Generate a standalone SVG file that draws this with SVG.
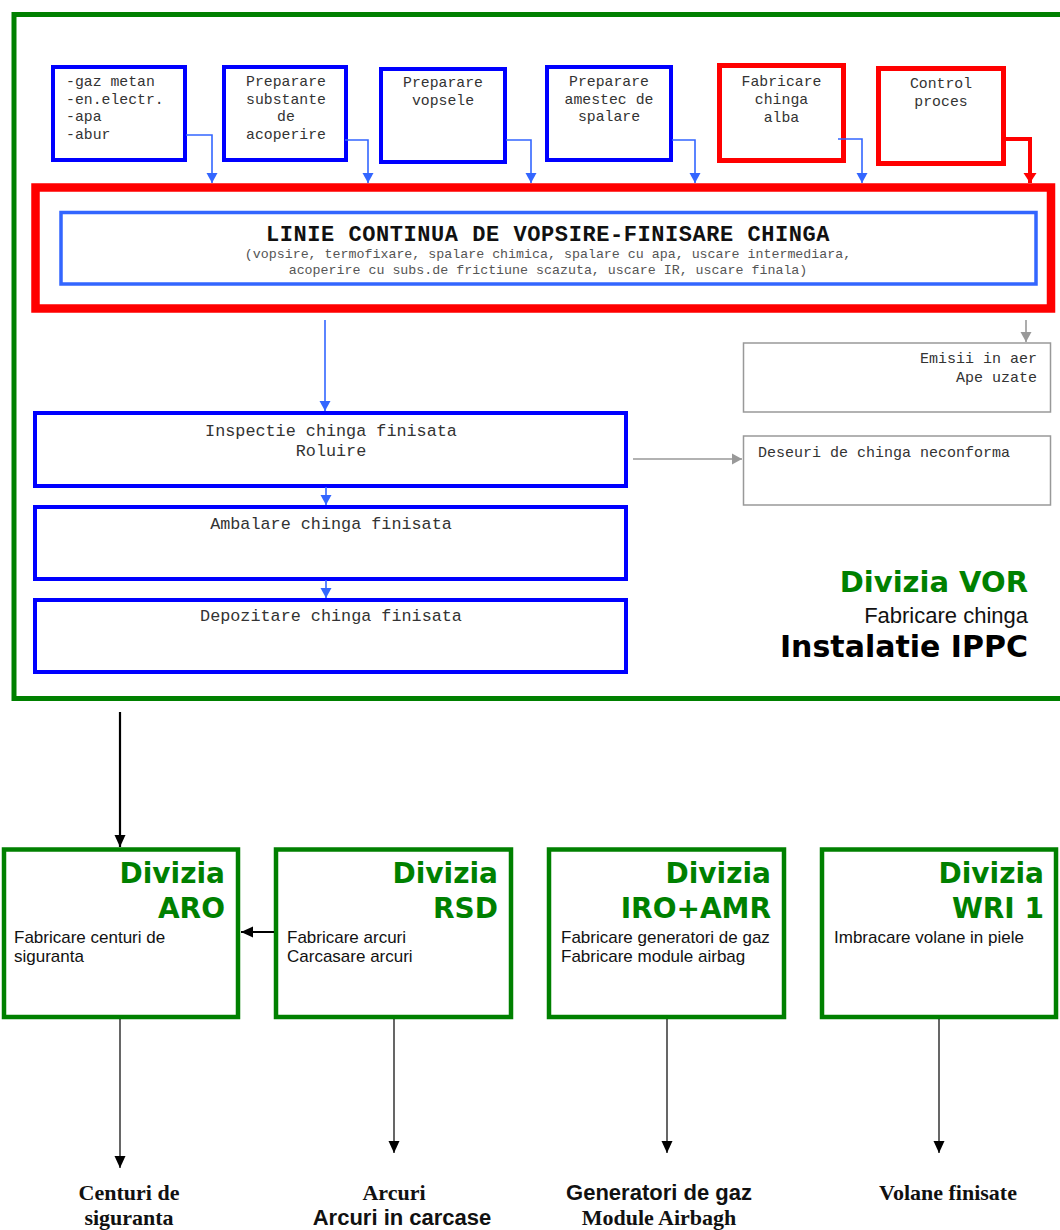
<svg xmlns="http://www.w3.org/2000/svg" width="1060" height="1230" viewBox="0 0 1060 1230">
<style>
.mono{font-family:"Liberation Mono","Courier New",monospace;fill:#333}
.t14{font-size:14.8px}
.t15{font-size:15px}
.t16{font-size:16.8px}
.sub{font-size:13.3px;fill:#555}
.title{font-family:"Liberation Mono","Courier New",monospace;font-size:22px;font-weight:bold;letter-spacing:0.55px;fill:#111}
.bbox{fill:#fff;stroke:#0000FF;stroke-width:4}
.rbox{fill:#fff;stroke:#FF0000;stroke-width:5}
.gbox{fill:#fff;stroke:#999;stroke-width:1.5}
.dbox{fill:#fff;stroke:#008000;stroke-width:4.5}
.dh{font-family:"DejaVu Sans",Verdana,sans-serif;font-weight:bold;font-size:28px;fill:#008000;text-anchor:end}
.body{font-family:"Liberation Sans",Arial,sans-serif;font-size:17px;fill:#111}
.ser{font-family:"Liberation Serif","Times New Roman",serif;font-weight:bold;font-size:22px;fill:#111;text-anchor:middle}
.san{font-family:"Liberation Sans",Arial,sans-serif;font-weight:bold;font-size:22px;fill:#111;text-anchor:middle}
.cb{fill:none;stroke:#3366FF;stroke-width:1.6}
.cr{fill:none;stroke:#FF0000;stroke-width:4}
.cg{fill:none;stroke:#999;stroke-width:1.6}
.ck{fill:none;stroke:#000;stroke-width:1.2}
.ck2{fill:none;stroke:#000;stroke-width:2.2}
.mid{text-anchor:middle}
.end{text-anchor:end}
</style>
<defs>
<marker id="ab" markerUnits="userSpaceOnUse" markerWidth="12" markerHeight="12" refX="10" refY="6" orient="auto"><path d="M0,0.5 L10,6 L0,11.5 z" fill="#3366FF"/></marker>
<marker id="ar" markerUnits="userSpaceOnUse" markerWidth="12" markerHeight="14" refX="10" refY="7" orient="auto"><path d="M0,0.5 L10,7 L0,13.5 z" fill="#FF0000"/></marker>
<marker id="ag" markerUnits="userSpaceOnUse" markerWidth="12" markerHeight="12" refX="10" refY="6" orient="auto"><path d="M0,0.5 L10,6 L0,11.5 z" fill="#999"/></marker>
<marker id="ak" markerUnits="userSpaceOnUse" markerWidth="14" markerHeight="12" refX="12" refY="6" orient="auto"><path d="M0,0.5 L12,6 L0,11.5 z" fill="#000"/></marker>
</defs>
<rect width="1060" height="1230" fill="#fff"/>

<g id="vor-frame">
<rect x="14" y="14.5" width="1060" height="684" fill="none" stroke="#008000" stroke-width="5"/>
<text x="1028" y="592" font-family="DejaVu Sans,Verdana,sans-serif" font-weight="bold" font-size="29" fill="#008000" text-anchor="end">Divizia VOR</text>
<text x="1028" y="623" font-family="Liberation Sans,Arial,sans-serif" font-size="22" fill="#111" text-anchor="end">Fabricare chinga</text>
<text x="1028" y="657" font-family="DejaVu Sans,Verdana,sans-serif" font-weight="bold" font-size="30" fill="#000" text-anchor="end">Instalatie IPPC</text>
</g>

<g id="utilitati">
<rect class="bbox" x="53" y="67" width="132" height="93"/>
<text class="mono t14" x="66" y="86">-gaz metan</text>
<text class="mono t14" x="66" y="103.5">-en.electr.</text>
<text class="mono t14" x="66" y="121">-apa</text>
<text class="mono t14" x="66" y="139">-abur</text>
</g>
<g id="substante">
<rect class="bbox" x="224" y="67" width="122" height="93"/>
<text class="mono t14 mid" x="286" y="86">Preparare</text>
<text class="mono t14 mid" x="286" y="103.5">substante</text>
<text class="mono t14 mid" x="286" y="121">de</text>
<text class="mono t14 mid" x="286" y="139">acoperire</text>
</g>
<g id="vopsele">
<rect class="bbox" x="381" y="69" width="124" height="93"/>
<text class="mono t14 mid" x="443" y="87">Preparare</text>
<text class="mono t14 mid" x="443" y="105">vopsele</text>
</g>
<g id="spalare">
<rect class="bbox" x="547" y="67" width="124" height="93"/>
<text class="mono t14 mid" x="609" y="86">Preparare</text>
<text class="mono t14 mid" x="609" y="104">amestec de</text>
<text class="mono t14 mid" x="609" y="121">spalare</text>
</g>
<g id="chinga-alba">
<rect class="rbox" x="719.5" y="65.5" width="124" height="95"/>
<text class="mono t14 mid" x="781.5" y="86">Fabricare</text>
<text class="mono t14 mid" x="781.5" y="104">chinga</text>
<text class="mono t14 mid" x="781.5" y="121.5">alba</text>
</g>
<g id="control">
<rect class="rbox" x="878.5" y="68.5" width="125" height="95"/>
<text class="mono t14 mid" x="941" y="87.5">Control</text>
<text class="mono t14 mid" x="941" y="105.5">proces</text>
</g>

<g id="linie">
<rect x="35.5" y="187.5" width="1015.5" height="121" fill="#fff" stroke="#FF0000" stroke-width="8.5"/>
<rect x="61" y="212.5" width="975" height="71.5" fill="#fff" stroke="#3366FF" stroke-width="3.5"/>
<text class="title" x="548" y="241" text-anchor="middle">LINIE CONTINUA DE VOPSIRE-FINISARE CHINGA</text>
<text class="mono sub mid" x="548" y="257.5">(vopsire, termofixare, spalare chimica, spalare cu apa, uscare intermediara,</text>
<text class="mono sub mid" x="548" y="273.5">acoperire cu subs.de frictiune scazuta, uscare IR, uscare finala)</text>
</g>

<g id="emisii">
<rect class="gbox" x="743.5" y="343" width="307" height="69"/>
<text class="mono t15 end" x="1037" y="363">Emisii in aer</text>
<text class="mono t15 end" x="1037" y="382">Ape uzate</text>
</g>
<g id="deseuri">
<rect class="gbox" x="743.5" y="436" width="307" height="69"/>
<text class="mono t15" x="758" y="457">Deseuri de chinga neconforma</text>
</g>

<g id="inspectie">
<rect class="bbox" x="35" y="413" width="591" height="73"/>
<text class="mono t16 mid" x="331" y="436">Inspectie chinga finisata</text>
<text class="mono t16 mid" x="331" y="456">Roluire</text>
</g>
<g id="ambalare">
<rect class="bbox" x="35" y="507" width="591" height="72"/>
<text class="mono t16 mid" x="331" y="529">Ambalare chinga finisata</text>
</g>
<g id="depozitare">
<rect class="bbox" x="35" y="600" width="591" height="72"/>
<text class="mono t16 mid" x="331" y="621">Depozitare chinga finisata</text>
</g>

<g id="div-aro">
<rect class="dbox" x="4" y="849.5" width="234" height="167.5"/>
<text class="dh" x="225" y="883">Divizia</text>
<text class="dh" x="225" y="918">ARO</text>
<text class="body" x="14" y="943">Fabricare centuri de</text>
<text class="body" x="14" y="962">siguranta</text>
</g>
<g id="div-rsd">
<rect class="dbox" x="276" y="849.5" width="235" height="167.5"/>
<text class="dh" x="498" y="883">Divizia</text>
<text class="dh" x="498" y="918">RSD</text>
<text class="body" x="287" y="943">Fabricare arcuri</text>
<text class="body" x="287" y="962">Carcasare arcuri</text>
</g>
<g id="div-iro-amr">
<rect class="dbox" x="549" y="849.5" width="235" height="167.5"/>
<text class="dh" x="771" y="883">Divizia</text>
<text class="dh" x="771" y="918">IRO+AMR</text>
<text class="body" x="561" y="943">Fabricare generatori de gaz</text>
<text class="body" x="561" y="962">Fabricare module airbag</text>
</g>
<g id="div-wri">
<rect class="dbox" x="822" y="849.5" width="234" height="167.5"/>
<text class="dh" x="1044" y="883">Divizia</text>
<text class="dh" x="1044" y="918">WRI 1</text>
<text class="body" x="834" y="943">Imbracare volane in piele</text>
</g>

<g id="out-centuri">
<text class="ser" x="129" y="1200">Centuri de</text>
<text class="ser" x="129" y="1225">siguranta</text>
</g>
<g id="out-arcuri">
<text class="ser" x="394" y="1200">Arcuri</text>
<text class="san" x="402" y="1225">Arcuri in carcase</text>
</g>
<g id="out-generatori">
<text class="san" x="659" y="1200">Generatori de gaz</text>
<text class="ser" x="659" y="1225">Module Airbagh</text>
</g>
<g id="out-volane">
<text class="ser" x="948" y="1200">Volane finisate</text>
</g>

<g id="connectors">
<path class="cb" d="M186,135 H212 V183" marker-end="url(#ab)"/>
<path class="cb" d="M345,140 H368 V183" marker-end="url(#ab)"/>
<path class="cb" d="M506,140 H531 V183" marker-end="url(#ab)"/>
<path class="cb" d="M672,140 H695 V183" marker-end="url(#ab)"/>
<path class="cb" d="M838,139 H862 V183" marker-end="url(#ab)"/>
<path class="cr" d="M1006,139 H1030 V183" marker-end="url(#ar)"/>
<path class="cb" d="M325,320 V411" marker-end="url(#ab)"/>
<path class="cb" d="M326,487 V505" marker-end="url(#ab)"/>
<path class="cb" d="M326,580 V598" marker-end="url(#ab)"/>
<path class="cg" d="M1026,320 V342" marker-end="url(#ag)"/>
<path class="cg" d="M633,459 H742" marker-end="url(#ag)"/>
<path class="ck2" d="M120,712 V847" marker-end="url(#ak)"/>
<path class="ck2" d="M274,932 H241" marker-end="url(#ak)"/>
<path class="ck" d="M120,1019 V1168" marker-end="url(#ak)"/>
<path class="ck" d="M394,1019 V1153" marker-end="url(#ak)"/>
<path class="ck" d="M667,1019 V1153" marker-end="url(#ak)"/>
<path class="ck" d="M939,1019 V1153" marker-end="url(#ak)"/>
</g>
</svg>
